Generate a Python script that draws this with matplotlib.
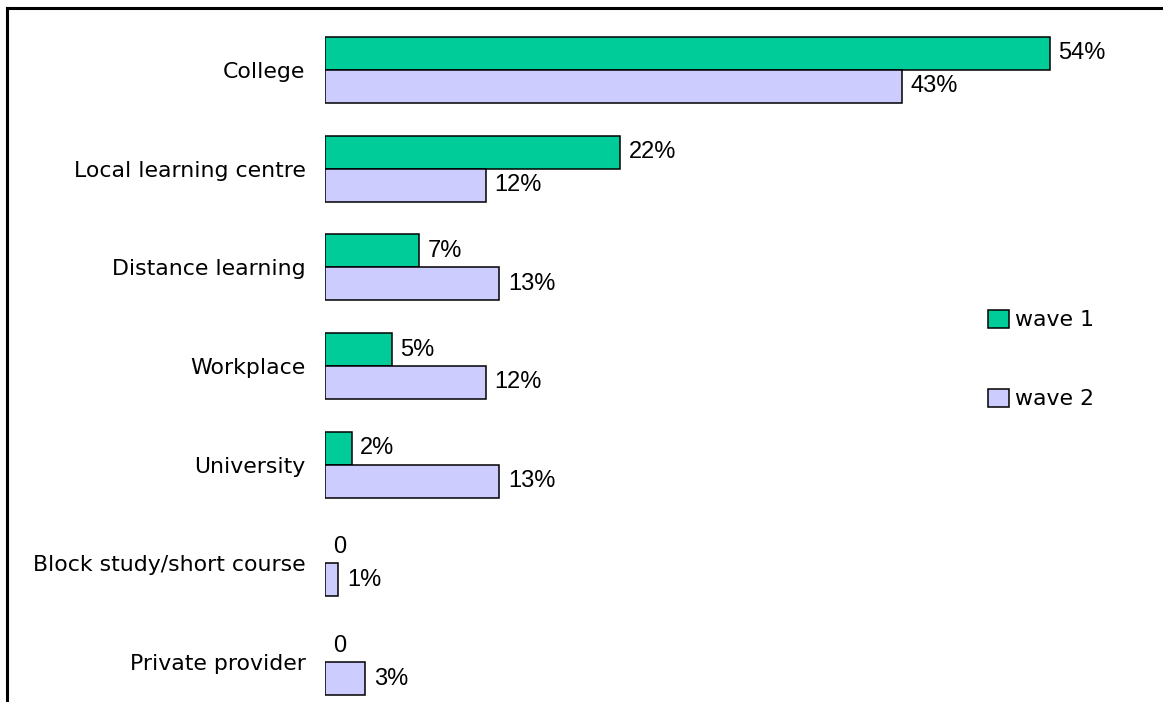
import matplotlib
matplotlib.use('Agg')
import matplotlib.pyplot as plt
import numpy as np
from matplotlib.lines import Line2D
from matplotlib.patches import Patch

CATEGORIES = ['College', 'Local learning centre', 'Distance learning', 'Workplace',
              'University', 'Block study/short course', 'Private provider']
WAVE1 = [54, 22, 7, 5, 2, 0, 0]
WAVE2 = [43, 12, 13, 12, 13, 1, 3]

GREEN, LILAC = '#00cc99', '#ccccff'
W, H, DPI = 1163, 702, 100


def pct(v):
    return '{}%'.format(v) if v else '0'


fig = plt.figure(figsize=(W / DPI, H / DPI), dpi=DPI)
fig.patch.set_facecolor('white')

# plot area: bars start at x=325px, one category per ~98.7px
ax = fig.add_axes([325 / W, 1 - 711.4 / H, 805 / W, 690.8 / H])

y = np.arange(len(CATEGORIES))
bh = 0.334
b1 = ax.barh(y - bh / 2, WAVE1, height=bh, color=GREEN, edgecolor='black',
             linewidth=1.1, label='wave 1')
b2 = ax.barh(y + bh / 2, WAVE2, height=bh, color=LILAC, edgecolor='black',
             linewidth=1.1, label='wave 2')

for bars, vals in ((b1, WAVE1), (b2, WAVE2)):
    for rect, v in zip(bars, vals):
        if v == 0:
            rect.set_linewidth(0)   # no outline sliver for empty bars
        ax.annotate(pct(v), (rect.get_width(), rect.get_y() + rect.get_height() / 2),
                    xytext=(6, 0), textcoords='offset points', ha='left', va='center',
                    fontsize=17, family='Liberation Sans', color='black')

ax.set_xlim(0, 60)
ax.set_ylim(len(CATEGORIES) - 0.5, -0.5)
ax.set_yticks(y)
ax.set_yticklabels(CATEGORIES, fontsize=15.8, family='DejaVu Sans')
ax.tick_params(axis='y', length=0, pad=14)
ax.set_xticks([])
for s in ax.spines.values():
    s.set_visible(False)

handles = [Patch(facecolor=GREEN, edgecolor='black', linewidth=1.1, label='wave 1'),
           Patch(facecolor=LILAC, edgecolor='black', linewidth=1.1, label='wave 2')]
fig.legend(handles=handles, loc='center left', bbox_to_anchor=(988 / W, 1 - 359.5 / H),
           bbox_transform=fig.transFigure, frameon=False, fontsize=15.8,
           handlelength=0.95, handleheight=0.9, handletextpad=0.3,
           labelspacing=2.65, borderpad=0, borderaxespad=0)

# outer frame (left and top edges)
fig.add_artist(Line2D([7 / W, 7 / W], [0, 1 - 8 / H], color='black', linewidth=2.2,
                      transform=fig.transFigure))
fig.add_artist(Line2D([7 / W, 1], [1 - 8 / H, 1 - 8 / H], color='black', linewidth=2.2,
                      transform=fig.transFigure))

fig.savefig('out.png', dpi=DPI, facecolor='white')
